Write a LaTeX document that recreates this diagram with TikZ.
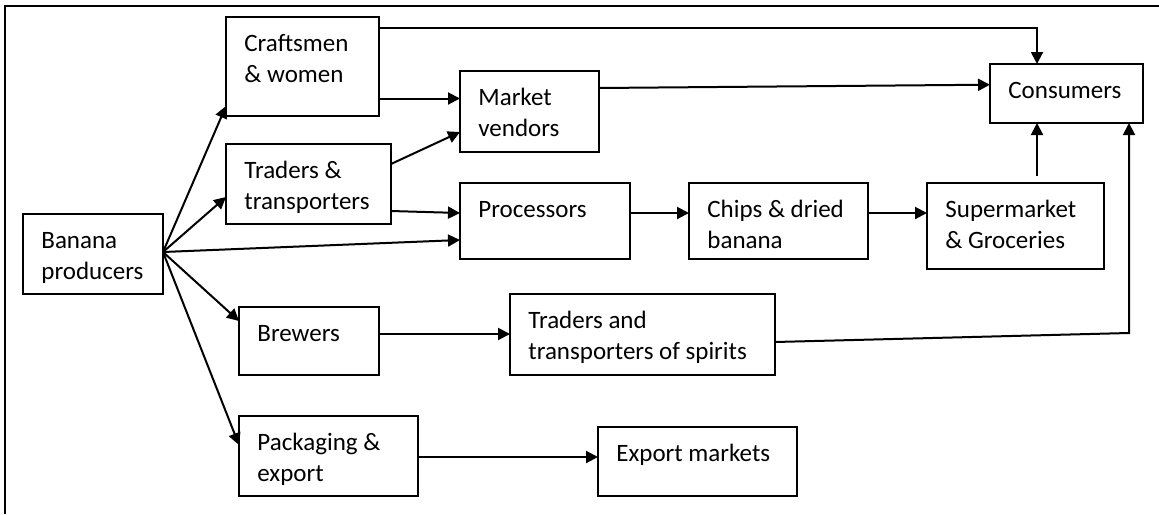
\documentclass[tikz,border=0pt]{standalone}
\usepackage{fontspec}
\setmainfont{Carlito}
\usepackage{tikz}
\usetikzlibrary{arrows.meta}
\tikzset{
    box/.style={draw, line width=0.75pt, inner sep=0pt, outer sep=0pt, anchor=north west},
    lbl/.style={inner sep=0pt, anchor=north west, align=left, font=\fontsize{12.5}{15.5}\selectfont},
    arr/.style={line width=1pt, -{Triangle[length=6pt,width=6pt]}},
}
\newcommand{\chainbox}[6]{ % Takes name, x, y of top left corner, width, height, label text as arguments
    \node [box, minimum width=#4*0.5pt, minimum height=#5*0.5pt] (#1) at (#2, #3) {};
    \node [lbl] (#1-txt) at ([shift={(18,12.5)}]#1.north west) {\strut #6};
}
\begin{document}
\begin{tikzpicture}[x=0.5pt, y=-0.5pt]
            \useasboundingbox (0,0) rectangle (1159,514);
            % Frame
            \draw[line width=0.75pt] (5,514) -- (5,6) -- (1159,6);

            % Boxes
            \chainbox{ban}{23}{214}{140}{80}{Banana\\producers}
            \chainbox{craft}{226}{17}{153}{99}{Craftsmen\\\& women}
            \chainbox{trad}{226}{144}{165}{80}{Traders \&\\transporters}
            \chainbox{mkt}{460}{71}{139}{81}{Market\\vendors}
            \chainbox{proc}{460}{183}{170}{76}{Processors}
            \chainbox{chips}{689}{183}{179}{76}{Chips \& dried\\banana}
            \chainbox{sup}{927}{183}{177}{86}{Supermarket\\\& Groceries}
            \chainbox{cons}{990}{64}{153}{59}{Consumers}
            \chainbox{brew}{239}{307}{140}{68}{Brewers}
            \chainbox{spir}{510}{294}{265}{81}{Traders and\\transporters of spirits}
            \chainbox{pack}{239}{416}{179}{80}{Packaging \&\\export}
            \chainbox{exp}{598}{427}{199}{69}{Export markets}

            % Fan out of the producers
            \draw[arr] ([yshift=1pt]ban.east) -- ([yshift=5pt]craft.south west);
            \draw[arr] ([yshift=1pt]ban.east) -- ([yshift=13.5pt]trad.south west);
            \draw[arr] ([yshift=1pt]ban.east) -- ([yshift=9.5pt]proc.south west);
            \draw[arr] ([yshift=1pt]ban.east) -- ([yshift=-7pt]brew.north west);
            \draw[arr] ([yshift=1pt]ban.east) -- ([yshift=-14.5pt]pack.north west);

            % Middle of the chain
            \draw[arr] ([yshift=-5.5pt]craft.north east) -| ([xshift=-14.75pt]cons.north);
            \draw[arr] ([yshift=8.75pt]craft.south east) coordinate (c1) -- (c1 -| mkt.west);
            \draw[arr] ([yshift=-10pt]trad.north east) -- ([yshift=10pt]mkt.south west);
            \draw[arr] ([yshift=6.5pt]trad.south east) -- ([yshift=-15pt]proc.north west);
            \draw[arr] ([yshift=-8.5pt]mkt.north east) -- ([yshift=-10.35pt]cons.north west);
            \draw[arr] ([yshift=-15pt]proc.north east) coordinate (c2) -- (c2 -| chips.west);
            \draw[arr] ([yshift=-15pt]chips.north east) coordinate (c3) -- (c3 -| sup.west);
            \draw[arr] ([xshift=10.75pt, yshift=3.5pt]sup.north) coordinate (c4) -- (c4 |- cons.south);
            \draw[arr] ([yshift=-13.5pt]brew.north east) coordinate (c5) -- (c5 -| spir.west);
            \coordinate (bend) at (1129,333);
            \draw[arr] ([yshift=-24pt]spir.north east) -- (bend) -- (bend |- cons.south);
            \draw[arr] ([yshift=-20.5pt]pack.north east) coordinate (c6) -- (c6 -| exp.west);
        \end{tikzpicture}
\end{document}
